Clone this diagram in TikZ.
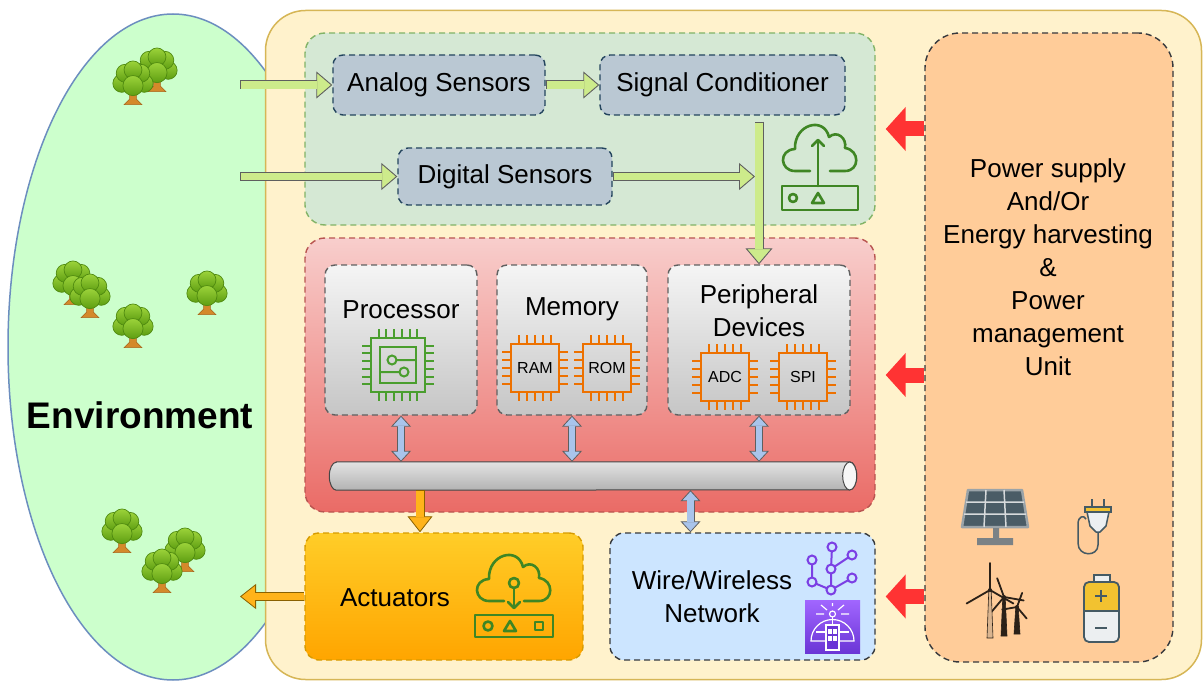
\documentclass[tikz,border=0pt]{standalone}
\usepackage{fontspec}
\setmainfont{Liberation Sans}
\usetikzlibrary{arrows.meta,shapes.geometric,positioning,calc}

\definecolor{envgreen}{HTML}{CCFFCC}
\definecolor{envblue}{HTML}{6C8EBF}
\definecolor{boardfill}{HTML}{FFF2CC}
\definecolor{boardline}{HTML}{D6B656}
\definecolor{sensfill}{HTML}{D5E8D4}
\definecolor{sensline}{HTML}{82B366}
\definecolor{slate}{HTML}{BAC8D3}
\definecolor{slateline}{HTML}{23445D}
\definecolor{redtop}{HTML}{F8CECC}
\definecolor{redbot}{HTML}{EA6B66}
\definecolor{redline}{HTML}{B85450}
\definecolor{darkline}{HTML}{36393D}
\definecolor{acttop}{HTML}{FFCD28}
\definecolor{actbot}{HTML}{FFA500}
\definecolor{actline}{HTML}{D79B00}
\definecolor{netfill}{HTML}{CCE5FF}
\definecolor{powerfill}{HTML}{FFCC99}
\definecolor{powerred}{HTML}{FF3333}
\definecolor{flowgreen}{HTML}{CDEB8B}
\definecolor{flowblue}{HTML}{A9C4EB}
\definecolor{flowedge}{HTML}{5F5F5F}
\definecolor{actarrow}{HTML}{FFB31A}
\definecolor{actedge}{HTML}{8A6100}
\definecolor{icongreen}{HTML}{3F8624}
\definecolor{chipgreen}{HTML}{4A9E2E}
\definecolor{chiporange}{HTML}{ED7100}
\definecolor{purpletop}{HTML}{A166FF}
\definecolor{purplebot}{HTML}{6B35D6}
\definecolor{netpurple}{HTML}{7B3FE4}
\definecolor{leaftop}{HTML}{9CD33A}
\definecolor{leafbot}{HTML}{5E9E12}
\definecolor{leafline}{HTML}{4F8A10}
\definecolor{trunk}{HTML}{D4892A}
\definecolor{trunkline}{HTML}{A8651A}
\definecolor{panelgray}{HTML}{9AA3A8}
\definecolor{paneldark}{HTML}{4A5C66}
\definecolor{slategray}{HTML}{455A64}
\definecolor{lightgray}{HTML}{ECEFF1}
\definecolor{plugyellow}{HTML}{F2C230}
\definecolor{turbinetan}{HTML}{D9B48F}
\definecolor{turbinedark}{HTML}{2B2118}

\newcommand{\drawtree}[1]{%
	\begin{scope}[shift={#1},scale=1.12]
		\filldraw[fill=trunk,draw=trunkline,line width=0.6pt] (-3,4) -- (3,4) -- (3,17) -- (8,22) -- (-8,22) -- (-3,17) -- cycle;
		\foreach \cx/\cy/\cr in {-10/3/8,10/3/8,-7/-6/8,7/-6/8,0/-9/8,0/5/9}
			\shadedraw[top color=leaftop,bottom color=leafbot,draw=leafline,line width=0.7pt] (\cx,\cy) circle (\cr);
	\end{scope}}

\newcommand{\chipicon}[5]{%
	\begin{scope}[shift={#1},color=#2,line width=2pt]
		\draw (-#3,-#3) rectangle (#3,#3);
		\foreach \k in {1,...,#4}{
			\pgfmathsetmacro{\pinpos}{-#3+2*#3*\k/(#4+1)}
			\draw (\pinpos,-#3) -- (\pinpos,-#3-9) (\pinpos,#3) -- (\pinpos,#3+9) (-#3,\pinpos) -- (-#3-9,\pinpos) (#3,\pinpos) -- (#3+9,\pinpos);
		}
		\node[text=black,font=\fontsize{16}{16}\selectfont] at (0,0) {#5};
	\end{scope}}

\newcommand{\turbine}[6]{%
	\filldraw[fill=#6,draw=turbinedark,line width=0.6pt] (#1-1.2,#2) -- (#1+1.2,#2) -- (#1+3,#3) -- (#1-3,#3) -- cycle;
	\foreach \a in {0,120,240}
		\draw[turbinedark,line width=1.8pt,line cap=round] (#1,#2) -- ++(#5+\a:#4);
	\fill[turbinedark] (#1,#2) circle (2);
}

\begin{document}
\begin{tikzpicture}[x=1pt,y=-1pt,
		box/.style={rounded corners=10pt, line width=1.4pt, dash pattern=on 6pt off 4pt, inner sep=0pt},
		txt/.style={font=\fontsize{26}{33}\selectfont, align=center},
		greenflow/.style={line width=9pt, draw=flowedge, -{Triangle[length=16pt,width=27pt,color=flowedge,fill=flowgreen,line width=0.9pt]}, postaction={draw=flowgreen, line width=7.2pt, -, shorten <=0.9pt, shorten >=15pt}},
		busflow/.style={line width=8pt, draw=flowedge, {Triangle[length=11pt,width=20pt,color=flowedge,fill=flowblue,line width=0.8pt]}-{Triangle[length=11pt,width=20pt,color=flowedge,fill=flowblue,line width=0.8pt]}, postaction={draw=flowblue, line width=6.4pt, -, shorten <=10pt, shorten >=10pt}},
		actflow/.style={line width=9pt, draw=actedge, -{Triangle[length=16pt,width=25pt,color=actedge,fill=actarrow,line width=0.8pt]}, postaction={draw=actarrow, line width=7.4pt, -, shorten <=0.8pt, shorten >=15pt}},
		powerflow/.style={line width=15pt, draw=powerred, -{Triangle[length=20pt,width=43pt]}}]
	\useasboundingbox (0,0) rectangle (1203,682);

	\node[ellipse, draw=envblue, fill=envgreen, line width=1.5pt, minimum width=330pt, minimum height=666pt, inner sep=0pt] (env) at (173,347) {};
	\drawtree{(157,67)} \drawtree{(133,80)}
	\drawtree{(73,280)} \drawtree{(90,293)} \drawtree{(207,290)} \drawtree{(133,323)}
	\drawtree{(122,528)} \drawtree{(185,547)} \drawtree{(162,568)}
	\node[font=\bfseries\fontsize{37}{37}\selectfont] (envlbl) at (140,415) {Environment};

	\node[draw=boardline, fill=boardfill, line width=1.5pt, rounded corners=40pt, minimum width=936pt, minimum height=669pt, inner sep=0pt] (board) at (733.5,345) {};

	% sensing
	\node[box, draw=sensline, fill=sensfill, rounded corners=20pt, minimum width=570pt, minimum height=192pt] (sensgrp) at (590,129) {};
	\node[box, txt, draw=slateline, fill=slate, minimum width=212pt, minimum height=60pt] (analog) at (439,85) {Analog Sensors};
	\node[box, txt, draw=slateline, fill=slate, minimum width=245pt, minimum height=60pt] (sigcond) at (722.5,85) {Signal Conditioner};
	\node[box, txt, draw=slateline, fill=slate, minimum width=214pt, minimum height=57pt] (digital) at (505,176.5) {Digital Sensors};

	\begin{scope}[shift={(820,148)}, yscale=-1, color=icongreen, line width=2.6pt, line cap=round, line join=round]
		\draw (-10,-23) -- (-25,-23) .. controls (-40,-23) and (-42,-2) .. (-25,-1) .. controls (-26,24) and (4,32) .. (9,11) .. controls (17,18) and (27,10) .. (25,0) .. controls (40,-2) and (40,-23) .. (25,-23) -- (10,-23);
		\draw (-2,-38) -- (-2,8);
		\draw (-8,2) -- (-2,8) -- (4,2);
		\draw (-38,-62) rectangle (38,-38);
		\draw (-27,-50) circle (4);
		\draw (-8,-55) -- (4,-55) -- (-2,-45) -- cycle;
	\end{scope}

	% processing
	\node[box, draw=redline, top color=redtop, bottom color=redbot, rounded corners=20pt, minimum width=570pt, minimum height=274pt] (procgrp) at (590,375) {};
	\node[box, draw=gray!75!black, top color=gray!8, bottom color=gray!45, minimum width=152pt, minimum height=150pt] (cpu) at (401,340) {};
	\node[box, draw=gray!75!black, top color=gray!8, bottom color=gray!45, minimum width=150pt, minimum height=150pt] (mem) at (572,340) {};
	\node[box, draw=gray!75!black, top color=gray!8, bottom color=gray!45, minimum width=182pt, minimum height=150pt] (periph) at (759,340) {};
	\node[txt] at ([yshift=-45pt]cpu.north) {Processor};
	\node[txt] at ([yshift=-45pt]mem.north) {Memory};
	\node[txt] at ([yshift=-46pt]periph.north) {Peripheral\\Devices};

	\chipicon{(398,365)}{chipgreen}{27}{6}{}
	\begin{scope}[color=chipgreen, line width=2pt]
		\draw (380,347) rectangle (416,383);
		\draw (392,360) circle (4.5) (396.5,360) -- (416,360);
		\draw (404,372) circle (4.5) (399.5,372) -- (380,372);
	\end{scope}
	\chipicon{(535,368)}{chiporange}{24}{5}{RAM}
	\chipicon{(607,368)}{chiporange}{24}{5}{ROM}
	\chipicon{(725,377)}{chiporange}{24}{5}{ADC}
	\chipicon{(803,377)}{chiporange}{24}{5}{SPI}

	% bus
	\node[minimum width=527pt, minimum height=28pt, inner sep=0pt] (bus) at (593,476) {};
	\shadedraw[top color=gray!22, middle color=gray!12, bottom color=gray!60, draw=gray!55!black, line width=1pt]
		([xshift=7pt]bus.north west) -- ([xshift=-7pt]bus.north east) arc[start angle=90, end angle=-90, x radius=7pt, y radius=14pt]
		-- ([xshift=7pt]bus.south west) arc[start angle=270, end angle=90, x radius=7pt, y radius=14pt] -- cycle;
	\filldraw[fill=gray!6, draw=gray!55!black, line width=1pt] ([xshift=-7pt]bus.east) ellipse [x radius=7pt, y radius=14pt];

	% actuators and network
	\node[box, draw=actline, top color=acttop, bottom color=actbot, rounded corners=14pt, minimum width=278pt, minimum height=127pt] (actu) at (444,596.5) {};
	\node[txt] at (395,598) {Actuators};
	\begin{scope}[shift={(514,578)}, yscale=-1, color=icongreen, line width=2.6pt, line cap=round, line join=round]
		\draw (-10,-23) -- (-25,-23) .. controls (-40,-23) and (-42,-2) .. (-25,-1) .. controls (-26,24) and (4,32) .. (9,11) .. controls (17,18) and (27,10) .. (25,0) .. controls (40,-2) and (40,-23) .. (25,-23) -- (10,-23);
		\draw (0,-5) circle (5);
		\draw (0,-10) -- (0,-30);
		\draw (-6,-24) -- (0,-30) -- (6,-24);
		\draw (-39,-59) rectangle (39,-37);
		\draw (-26,-48) circle (4.5);
		\draw (-10,-53) -- (2,-53) -- (-4,-43) -- cycle;
		\draw (21,-52) rectangle (29,-44);
	\end{scope}

	\node[box, draw=darkline, fill=netfill, rounded corners=14pt, minimum width=265pt, minimum height=127pt] (net) at (742.5,596.5) {};
	\node[txt] at (712,597) {Wire/Wireless\\Network};
	\begin{scope}[netpurple, line width=2pt]
		\draw (832,547) -- (831,569) -- (831,590) (852,555) -- (831,569)
			(812,560) -- (812,582) -- (831,590) (852,578) -- (831,590);
		\foreach \nx/\ny in {832/547,852/555,812/560,831/569,852/578,812/582,831/590}
			\filldraw[fill=netfill] (\nx,\ny) circle (4.5);
	\end{scope}
	\shade[top color=purpletop, bottom color=purplebot] (805,600) rectangle (860,653);
	\begin{scope}[white, line width=1.2pt]
		\draw (811,641) arc[start angle=180, end angle=360, radius=21.5] -- cycle;
		\draw (816,632) -- (849,632);
		\filldraw[fill=purplebot] (826,625) rectangle (839,650);
		\draw (829,630) rectangle (831,633) (834,630) rectangle (836,633) (829,637) rectangle (831,640) (834,637) rectangle (836,640);
		\draw (832.5,625) -- (832.5,617);
		\draw (832.5,614) circle (3);
		\draw (816,614) -- (824,614) (841,614) -- (849,614) (821,605) -- (827,610) (844,605) -- (838,610) (832.5,603) -- (832.5,606);
	\end{scope}

	% power
	\node[box, draw=darkline, fill=powerfill, rounded corners=35pt, minimum width=248pt, minimum height=629pt] (power) at (1049,347.5) {};
	\node[txt] (powerlbl) at (1048,267) {Power supply\\And/Or\\Energy harvesting\\\&\\Power\\management\\Unit};

	\filldraw[fill=paneldark, draw=panelgray, line width=2.5pt, line join=round] (968,490) -- (1022,490) -- (1028,527) -- (962,527) -- cycle;
	\draw[panelgray!40!white, line width=1.5pt] (986,490) -- (984,527) (1004,490) -- (1006,527) (966,502) -- (1024,502) (964,514) -- (1026,514);
	\fill[panelgray!80!black] (993,528) rectangle (999,539) (977,538) rectangle (1013,545);

	\draw[slategray, line width=2.5pt] (1092,499) -- (1092,508) (1104,499) -- (1104,508);
	\draw[slategray, line width=1.5pt] (1098,532) -- (1098,545) .. controls (1098,557) and (1078,557) .. (1078,543) -- (1078,524) .. controls (1078,516) and (1084,515) .. (1086,519);
	\filldraw[fill=lightgray, draw=slategray, line width=1.5pt, line join=round] (1087,512) -- (1109,512) -- (1106,526) -- (1100,532) -- (1096,532) -- (1090,526) -- cycle;
	\filldraw[fill=plugyellow, draw=slategray, line width=1.5pt] (1085,507) rectangle (1111,512);

	\turbine{1017}{607}{634}{15}{290}{turbinedark}
	\turbine{1004}{597}{636}{20}{250}{turbinedark}
	\turbine{990}{590}{638}{27}{270}{turbinetan}

	\fill[lightgray, rounded corners=5pt] (1084,582) rectangle (1119,642);
	\fill[plugyellow] (1084,611) [rounded corners=5pt] -- (1084,582) -- (1119,582) [sharp corners] -- (1119,611) -- cycle;
	\draw[slategray, line width=1.8pt, rounded corners=5pt] (1084,582) rectangle (1119,642);
	\filldraw[fill=lightgray, draw=slategray, line width=1.5pt] (1094,575) rectangle (1110,582);
	\draw[slategray, line width=1.5pt] (1084,611) -- (1119,611);
	\draw[slategray, line width=1.8pt] (1101,590) -- (1101,602) (1095,596) -- (1107,596) (1095,628) -- (1107,628);

	% connectors
	\coordinate (envA) at (analog.west -| 240,0);
	\coordinate (envB) at (digital.west -| 240,0);
	\coordinate (envC) at (actu.west -| 240,0);
	\coordinate (junc) at ($(digital.east -| periph.north)+(-4,0)$);
	\draw[greenflow] (envA) -- (analog.west);
	\draw[greenflow] (analog.east) -- (sigcond.west);
	\draw[greenflow] (envB) -- (digital.west);
	\draw[greenflow] (digital.east) -- (junc);
	\draw[greenflow] ($(sigcond.south -| periph.north)+(0,6)$) -- (periph.north);
	\draw[busflow] (cpu.south) -- (cpu.south |- bus.north);
	\draw[busflow] (mem.south) -- (mem.south |- bus.north);
	\draw[busflow] (periph.south) -- (periph.south |- bus.north);
	\draw[actflow] ($(bus.south -| actu.north)+(-24,0)$) -- ($(actu.north)+(-24,0)$);
	\draw[busflow] ($(bus.south -| net.north)+(-52,0)$) -- ($(net.north)+(-52,0)$);
	\draw[actflow] (actu.west) -- (envC);
	\draw[powerflow] (power.west |- sensgrp.east) -- ($(sensgrp.east)+(10,0)$);
	\draw[powerflow] (power.west |- procgrp.east) -- ($(procgrp.east)+(10,0)$);
	\draw[powerflow] (power.west |- net.east) -- ($(net.east)+(10,0)$);
\end{tikzpicture}
\end{document}
